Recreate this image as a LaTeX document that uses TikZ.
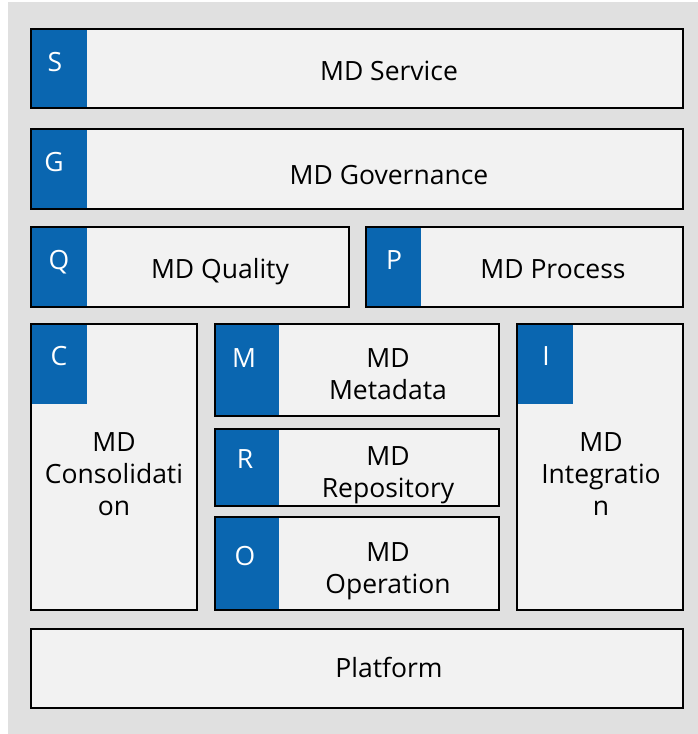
\documentclass[tikz,border=0pt]{standalone}
\usepackage{fontspec}
\setmainfont{Open Sans}
\definecolor{bg}{HTML}{E0E0E0}
\definecolor{boxfill}{HTML}{F2F2F2}
\definecolor{mdblue}{HTML}{0A66B0}
\begin{document}
\begin{tikzpicture}[x=1pt,y=-1pt,
 box/.style={fill=boxfill,rectangle,inner sep=0pt,outer sep=0pt,anchor=north west},
 tab/.style={fill=mdblue,rectangle,inner sep=0pt,outer sep=0pt,anchor=north west},
 frame/.style={draw=black,line width=2pt},
 letter/.style={text=white,font=\fontsize{26.5}{31}\selectfont,anchor=base,inner sep=0pt},
 lbl/.style={font=\fontsize{26.5}{32}\selectfont,align=center,text=black,inner sep=0pt},
 lblb/.style={lbl,anchor=base}]
\useasboundingbox (0,0) rectangle (698,734);
\fill[bg] (8,2) rectangle (698,734);
% S
\node[box,minimum width=652pt,minimum height=79pt] (S) at (31,29) {};
\node[tab,minimum width=56pt,minimum height=79pt] (St) at (31,29) {};
\draw[frame] (S.north west) rectangle (S.south east);
\node[letter] (Sl) at (55,71) {S};
\node[lblb] (Sx) at (389,80) {MD Service};
% G
\node[box,minimum width=652pt,minimum height=80pt] (G) at (31,129) {};
\node[tab,minimum width=56pt,minimum height=80pt] (Gt) at (31,129) {};
\draw[frame] (G.north west) rectangle (G.south east);
\node[letter] (Gl) at (54,171) {G};
\node[lblb] (Gx) at (389,184) {MD Governance};
% Q
\node[box,minimum width=318pt,minimum height=80pt] (Q) at (31,227) {};
\node[tab,minimum width=56pt,minimum height=80pt] (Qt) at (31,227) {};
\draw[frame] (Q.north west) rectangle (Q.south east);
\node[letter] (Ql) at (59,269) {Q};
\node[lblb] (Qx) at (220,278) {MD Quality};
% P
\node[box,minimum width=317pt,minimum height=80pt] (P) at (366,227) {};
\node[tab,minimum width=55pt,minimum height=80pt] (Pt) at (366,227) {};
\draw[frame] (P.north west) rectangle (P.south east);
\node[letter] (Pl) at (394,269) {P};
\node[lblb] (Px) at (553,278) {MD Process};
% C
\node[box,minimum width=166pt,minimum height=286pt] (C) at (31,324) {};
\node[tab,minimum width=56pt,minimum height=80pt] (Ct) at (31,324) {};
\draw[frame] (C.north west) rectangle (C.south east);
\node[letter] (Cl) at (59,365) {C};
\node[lbl] (Cx) at (114,474) {MD\\Consolidati\\on};
% M
\node[box,minimum width=284pt,minimum height=92pt] (M) at (215,324) {};
\node[tab,minimum width=64pt,minimum height=92pt] (Mt) at (215,324) {};
\draw[frame] (M.north west) rectangle (M.south east);
\node[letter] (Ml) at (244,367) {M};
\node[lbl] (Mx) at (388,374) {MD\\Metadata};
% R
\node[box,minimum width=284pt,minimum height=77pt] (R) at (215,429) {};
\node[tab,minimum width=64pt,minimum height=77pt] (Rt) at (215,429) {};
\draw[frame] (R.north west) rectangle (R.south east);
\node[letter] (Rl) at (245,468) {R};
\node[lbl] (Rx) at (388,475) {MD\\Repository};
% O
\node[box,minimum width=284pt,minimum height=93pt] (O) at (215,517) {};
\node[tab,minimum width=64pt,minimum height=93pt] (Ot) at (215,517) {};
\draw[frame] (O.north west) rectangle (O.south east);
\node[letter] (Ol) at (245,565) {O};
\node[lbl] (Ox) at (388,571) {MD\\Operation};
% I
\node[box,minimum width=166pt,minimum height=286pt] (I) at (517,324) {};
\node[tab,minimum width=56pt,minimum height=80pt] (It) at (517,324) {};
\draw[frame] (I.north west) rectangle (I.south east);
\node[letter] (Il) at (546,365) {I};
\node[lbl] (Ix) at (601,474) {MD\\Integratio\\n};
% Platform
\node[box,minimum width=652pt,minimum height=79pt] (PL) at (31,629) {};
\draw[frame] (PL.north west) rectangle (PL.south east);
\node[lblb] (PLx) at (389,677) {Platform};
\end{tikzpicture}
\end{document}
